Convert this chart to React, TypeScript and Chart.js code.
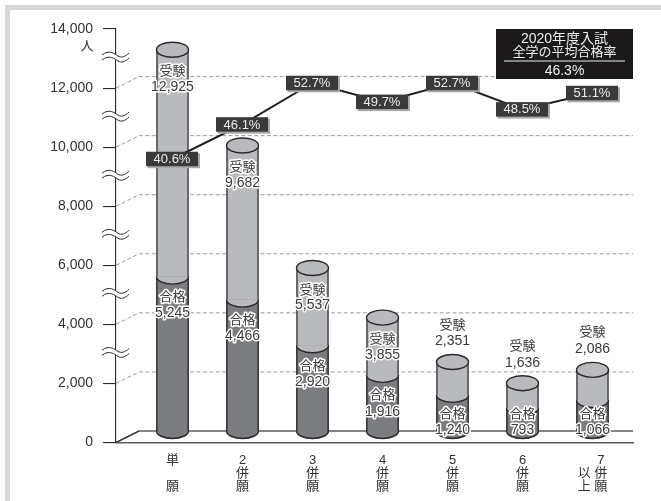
import React, { useEffect, useRef } from "react";
import { Chart, registerables } from "chart.js";

Chart.register(...registerables);

const categories: string[][] = [
  ["単", "　", "願"],
  ["2", "併", "願"],
  ["3", "併", "願"],
  ["4", "併", "願"],
  ["5", "併", "願"],
  ["6", "併", "願"],
  ["　 7", "以 併", "上 願"],
];
const positions = [1, 2, 3, 4, 5, 6, 7];
const applicants = [12925, 9682, 5537, 3855, 2351, 1636, 2086];
const passers = [5245, 4466, 2920, 1916, 1240, 793, 1066];
const passRates = [40.6, 46.1, 52.7, 49.7, 52.7, 48.5, 51.1];
const applicantLabel = "受験";
const passerLabel = "合格";
const unitLabel = "人";
const boxLines = ["2020年度入試", "全学の平均合格率", "46.3%"];
const axisBreaks = [13000, 11000, 9000, 7000, 5000, 3000];

const FONT = '"Liberation Sans", "Noto Sans CJK JP", sans-serif';
const INK = "#2a2a2a";
const LIGHT = "#b9babd";
const DARK = "#7c7d81";
const DEPTH_X = 23;
const DEPTH_Y = 11.5;
const RY = 7.5;

const f = (v: number) => v.toLocaleString("en-US");

function ellipse(ctx: CanvasRenderingContext2D, x: number, y: number, rx: number, fill: string, bottomOnly = false) {
  ctx.beginPath();
  ctx.ellipse(x, y, rx, RY, 0, 0, bottomOnly ? Math.PI : Math.PI * 2);
  ctx.closePath();
  ctx.fillStyle = fill;
  ctx.fill();
  ctx.beginPath();
  ctx.ellipse(x, y, rx, RY, 0, 0, bottomOnly ? Math.PI : Math.PI * 2);
  ctx.strokeStyle = INK;
  ctx.lineWidth = 1.4;
  ctx.stroke();
}

const frame = {
  id: "frame",
  beforeDraw(chart: any) {
    const { ctx, width, height } = chart;
    ctx.save();
    ctx.fillStyle = "#fff";
    ctx.fillRect(0, 0, width, height);
    ctx.fillStyle = "#d6d7d9";
    ctx.fillRect(5, 5, width - 5, 5);
    ctx.fillRect(5, 5, 5, height - 5);
    ctx.restore();
  },
};

const depthGrid = {
  id: "depthGrid",
  beforeDatasetsDraw(chart: any) {
    const { ctx, scales, chartArea } = chart;
    const y = scales.y;
    ctx.save();
    y.ticks.forEach((t: any) => {
      const p = y.getPixelForValue(t.value);
      if (t.value === y.max) return;
      ctx.beginPath();
      ctx.moveTo(chartArea.left, p);
      ctx.lineTo(chartArea.left + DEPTH_X, p - DEPTH_Y);
      ctx.lineTo(chartArea.right, p - DEPTH_Y);
      if (t.value === 0) {
        ctx.setLineDash([]);
        ctx.strokeStyle = "#5c5c5c";
        ctx.lineWidth = 1.4;
        ctx.stroke();
        ctx.beginPath();
        ctx.moveTo(chartArea.left, p);
        ctx.lineTo(chartArea.left + DEPTH_X, p - DEPTH_Y);
        ctx.strokeStyle = INK;
        ctx.lineWidth = 1;
        ctx.stroke();
      } else {
        ctx.setLineDash([4, 2.4]);
        ctx.strokeStyle = "#8e8e8e";
        ctx.lineWidth = 0.9;
        ctx.stroke();
      }
    });
    ctx.restore();
  },
};

const cylinders = {
  id: "cylinders",
  beforeDatasetDraw(chart: any, args: any) {
    if (chart.getDatasetMeta(args.index).type !== "bar") return;
    chart.ctx.save();
    chart.ctx.translate(0, -DEPTH_Y + 0.5);
  },
  afterDatasetDraw(chart: any, args: any) {
    const meta = chart.getDatasetMeta(args.index);
    if (meta.type !== "bar") return;
    const ctx = chart.ctx;
    ctx.restore();
    ctx.save();
    const lift = DEPTH_Y - 0.5;
    meta.data.forEach((bar: any) => {
      const rx = bar.width / 2;
      if (args.index === 0) {
        ellipse(ctx, bar.x, bar.y - lift, rx, LIGHT);
      } else {
        ellipse(ctx, bar.x, bar.base - lift, rx, DARK, true);
        ellipse(ctx, bar.x, bar.y - lift, rx, LIGHT, true);
      }
    });
    ctx.restore();
  },
};

function haloText(ctx: CanvasRenderingContext2D, text: string, x: number, y: number) {
  ctx.lineJoin = "round";
  ctx.strokeStyle = "#fff";
  ctx.lineWidth = 3;
  ctx.strokeText(text, x, y);
  ctx.fillStyle = "#3a3a3a";
  ctx.fillText(text, x, y);
}

const annotations = {
  id: "annotations",
  afterDatasetsDraw(chart: any) {
    const { ctx, scales, chartArea } = chart;
    const yScale = scales.y;
    ctx.save();
    ctx.textAlign = "center";
    ctx.textBaseline = "middle";

    // y-axis break marks
    axisBreaks.forEach((v) => {
      const c = yScale.getPixelForValue(v) - 1;
      const wave = (off: number) => {
        ctx.moveTo(chartArea.left - 14, c + off);
        ctx.bezierCurveTo(chartArea.left - 7, c + off - 6, chartArea.left - 1, c + off - 1, chartArea.left + 2, c + off + 1);
        ctx.bezierCurveTo(chartArea.left + 5, c + off + 3, chartArea.left + 9, c + off + 2, chartArea.left + 13, c + off - 2);
      };
      ctx.beginPath();
      wave(-2.5);
      ctx.lineTo(chartArea.left + 13, c + 0.5);
      ctx.bezierCurveTo(chartArea.left + 9, c + 4.5, chartArea.left + 5, c + 5.5, chartArea.left + 2, c + 3.5);
      ctx.bezierCurveTo(chartArea.left - 1, c + 1.5, chartArea.left - 7, c - 3.5, chartArea.left - 14, c + 2.5);
      ctx.closePath();
      ctx.fillStyle = "#fff";
      ctx.fill();
      ctx.beginPath();
      wave(-2.5);
      wave(2.5);
      ctx.strokeStyle = INK;
      ctx.lineWidth = 1;
      ctx.stroke();
    });

    // unit
    ctx.font = `13px ${FONT}`;
    ctx.fillStyle = "#333";
    ctx.fillText(unitLabel, chartArea.left - 29, yScale.getPixelForValue(yScale.max) + 17);

    // labels on the cylinders
    const lift = DEPTH_Y - 0.5;
    const appMeta = chart.getDatasetMeta(0);
    const passMeta = chart.getDatasetMeta(1);
    appMeta.data.forEach((bar: any, i: number) => {
      const top = bar.y - lift;
      const outside = applicants[i] < 3000;
      const a = outside ? top - 37 : top + 22;
      const b = outside ? top - 20.5 : top + 37.5;
      ctx.font = `13px ${FONT}`;
      haloText(ctx, applicantLabel, bar.x, a);
      ctx.font = `14px ${FONT}`;
      haloText(ctx, f(applicants[i]), bar.x, b);
    });
    passMeta.data.forEach((bar: any, i: number) => {
      const level = bar.y - lift;
      const bottom = bar.base - lift;
      const a = Math.min(level + 21, bottom - 17);
      const b = Math.min(level + 36.8, bottom - 1.2);
      ctx.font = `13px ${FONT}`;
      haloText(ctx, passerLabel, bar.x, a);
      ctx.font = `14px ${FONT}`;
      haloText(ctx, f(passers[i]), bar.x, b);
    });

    // rate tags
    const lineMeta = chart.getDatasetMeta(2);
    lineMeta.data.forEach((pt: any, i: number) => {
      const w = 52;
      const h = 14.5;
      const x = pt.x - w / 2 - 0.5;
      const y = pt.y - h / 2;
      ctx.fillStyle = "#a9a9ab";
      ctx.fillRect(x + 1.5, y + 1.5, w + 0.5, h + 0.5);
      ctx.fillStyle = "#3a3a3b";
      ctx.fillRect(x, y, w, h);
      ctx.font = `13px ${FONT}`;
      ctx.fillStyle = "#ececec";
      ctx.fillText(`${passRates[i].toFixed(1)}%`, pt.x - 0.5, pt.y + 0.5);
    });

    // overall average box
    const bx = chartArea.right - 137;
    const by = chartArea.top;
    ctx.fillStyle = "#1b191a";
    ctx.fillRect(bx, by, 137, 50);
    const cx = bx + 68.5;
    ctx.fillStyle = "#eeeeee";
    ctx.font = `14px ${FONT}`;
    ctx.fillText(boxLines[0], cx, by + 10);
    ctx.font = `13px ${FONT}`;
    ctx.fillText(boxLines[1], cx, by + 23);
    ctx.font = `14px ${FONT}`;
    ctx.fillText(boxLines[2], cx, by + 42);
    ctx.strokeStyle = "#eeeeee";
    ctx.lineWidth = 1;
    ctx.beginPath();
    ctx.moveTo(bx + 8, by + 32);
    ctx.lineTo(bx + 129, by + 32);
    ctx.stroke();
    ctx.restore();
  },
};

export default function App() {
  const ref = useRef<HTMLCanvasElement>(null);
  useEffect(() => {
    const chart = new Chart(ref.current as HTMLCanvasElement, {
      type: "bar",
      data: {
        datasets: [
          {
            label: applicantLabel,
            data: positions.map((x, i) => ({ x, y: applicants[i] })),
            backgroundColor: LIGHT,
            borderColor: INK,
            borderWidth: { left: 1.4, right: 1.4, top: 0, bottom: 0 },
            barThickness: 32,
            grouped: false,
            order: 2,
          },
          {
            label: passerLabel,
            data: positions.map((x, i) => ({ x, y: passers[i] })),
            backgroundColor: DARK,
            borderColor: INK,
            borderWidth: { left: 1.4, right: 1.4, top: 0, bottom: 0 },
            barThickness: 32,
            grouped: false,
            order: 1,
          },
          {
            type: "line",
            label: "合格率",
            data: positions.map((x, i) => ({ x, y: passRates[i] })),
            yAxisID: "y1",
            borderColor: "#1f1f1f",
            borderWidth: 2,
            pointRadius: 0,
            tension: 0,
            order: 0,
          },
        ] as any,
      },
      options: {
        animation: false,
        responsive: false,
        devicePixelRatio: 1,
        layout: { padding: { top: 29, right: 28, left: 0, bottom: 0 } },
        plugins: { legend: { display: false }, tooltip: { enabled: false } },
        scales: {
          x: {
            type: "linear",
            offset: false,
            min: 0.1929,
            max: 7.5786,
            grid: { display: false, drawTicks: false },
            border: { display: true, color: "#5c5c5c", width: 1.4 },
            ticks: {
              stepSize: 1,
              includeBounds: false,
              autoSkip: false,
              maxRotation: 0,
              padding: 11,
              color: "#333",
              font: { family: FONT, size: 13, lineHeight: 1.02 },
              callback: (v: any) => categories[Number(v) - 1] ?? "",
            },
            afterFit: (s: any) => {
              s.height = 58.5;
            },
          },
          y: {
            type: "linear",
            min: 0,
            max: 14000,
            grid: { drawOnChartArea: false, drawTicks: true, tickLength: 13, color: INK, lineWidth: 1.1 },
            border: { display: true, color: INK, width: 1.1 },
            ticks: {
              stepSize: 2000,
              padding: 10,
              color: "#333",
              font: { family: FONT, size: 14 },
              callback: (v: any) => f(Number(v)),
            },
            afterFit: (s: any) => {
              s.width = 116;
            },
          },
          y1: {
            type: "linear",
            display: false,
            min: -4.55,
            max: 61.3,
          },
        },
      } as any,
      plugins: [frame, depthGrid, cylinders, annotations],
    });
    return () => chart.destroy();
  }, []);
  return (
    <div style={{ position: "absolute", left: 0, top: 0, width: 661, height: 501 }}>
      <canvas ref={ref} width={661} height={501} style={{ display: "block", width: 661, height: 501 }} />
    </div>
  );
}
